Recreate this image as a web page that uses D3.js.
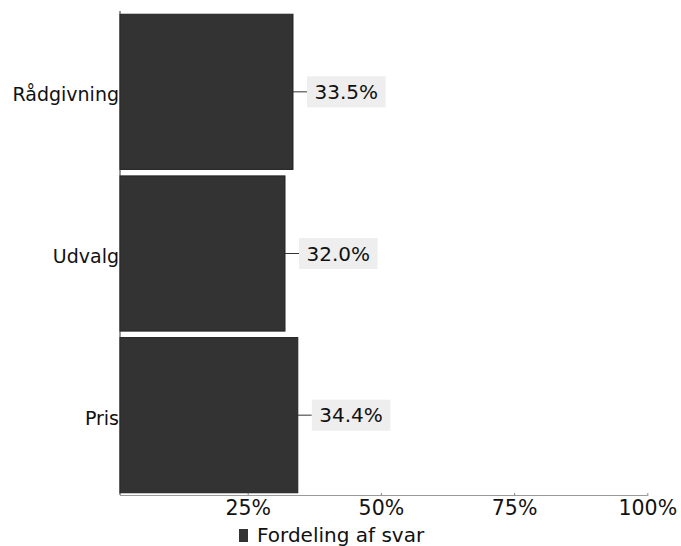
<!DOCTYPE html>
<html><head><meta charset="utf-8">
<script src="https://cdn.jsdelivr.net/npm/d3@7"></script>
<style>body{margin:0;background:#fff;} svg{display:block;font-family:"DejaVu Sans",sans-serif;}</style>
</head><body>
<script>
const categories = ["Rådgivning", "Udvalg", "Pris"];
const values = [0.335, 0.320, 0.344];
const valueLabels = ["33.5%", "32.0%", "34.4%"];
const tickValues = [0.25, 0.5, 0.75, 1.0];
const tickLabels = ["25%", "50%", "75%", "100%"];
const seriesName = "Fordeling af svar";

const W = 681, H = 546;
const svg = d3.select("body").append("svg").attr("width", W).attr("height", H);

const x = d3.scaleLinear().domain([0, 1]).range([114.5, 647.3]);
const axisX0 = 120;
const y = d3.scaleBand().domain(categories).range([11, 496]).paddingInner(0.04).paddingOuter(0.02);

// bars
svg.selectAll("rect.bar").data(categories).join("rect")
  .attr("class", "bar")
  .attr("x", axisX0)
  .attr("y", d => y(d))
  .attr("width", (d, i) => x(values[i]) - axisX0)
  .attr("height", y.bandwidth())
  .attr("fill", "#333")
  .attr("stroke", "#222")
  .attr("stroke-width", 1);

// left axis line
svg.append("line").attr("x1", axisX0).attr("x2", axisX0).attr("y1", 11).attr("y2", 495)
  .attr("stroke", "#333").attr("stroke-width", 1);

// category labels
svg.selectAll("text.cat").data(categories).join("text")
  .attr("class", "cat")
  .attr("x", axisX0 - 1)
  .attr("y", d => y(d) + y.bandwidth() / 2 + 9.5)
  .attr("text-anchor", "end")
  .attr("font-size", 19)
  .attr("fill", "#111")
  .text(d => d);

// value labels with leader lines
const lab = svg.selectAll("g.vl").data(categories).join("g").attr("class", "vl");
lab.each(function(d, i) {
  const g = d3.select(this);
  const cy = y(d) + y.bandwidth() / 2;
  const x0 = x(values[i]);
  const bx = x0 + 14;
  g.append("line").attr("x1", x0).attr("x2", bx).attr("y1", cy).attr("y2", cy)
    .attr("stroke", "#333").attr("stroke-width", 1);
  const t = g.append("text").attr("y", cy + 7.2)
    .attr("text-anchor", "middle").attr("font-size", 20).attr("fill", "#111")
    .text(valueLabels[i]);
  const bb = t.node().getBBox();
  const bw = Math.max(78, bb.width + 15);
  g.insert("rect", "text").attr("x", bx).attr("y", cy - 15.5)
    .attr("width", bw).attr("height", 31).attr("fill", "#eeeeee");
  t.attr("x", bx + bw / 2);
});

// x axis
const xAxis = d3.axisBottom(x).tickValues(tickValues)
  .tickFormat((d, i) => tickLabels[i]).tickSize(3).tickSizeOuter(0).tickPadding(2);
const ax = svg.append("g").attr("transform", "translate(0,495)").call(xAxis);
ax.select(".domain").remove();
ax.selectAll(".tick line").attr("stroke", "#888").attr("y1", -2).attr("y2", 1);
ax.selectAll(".tick text").attr("font-size", 20.5).attr("fill", "#111")
  .attr("font-family", "DejaVu Sans, sans-serif").attr("dy", null).attr("y", 20);
svg.append("line").attr("x1", axisX0).attr("x2", x(1)).attr("y1", 495.5).attr("y2", 495.5)
  .attr("stroke", "#999").attr("stroke-width", 1);

// legend
const lg = svg.append("g").attr("transform", "translate(239,528)");
lg.append("rect").attr("x", 0).attr("y", 1).attr("width", 9).attr("height", 13).attr("fill", "#333");
lg.append("text").attr("x", 18).attr("y", 14).attr("font-size", 20).attr("fill", "#111").text(seriesName);
</script>
</body></html>
